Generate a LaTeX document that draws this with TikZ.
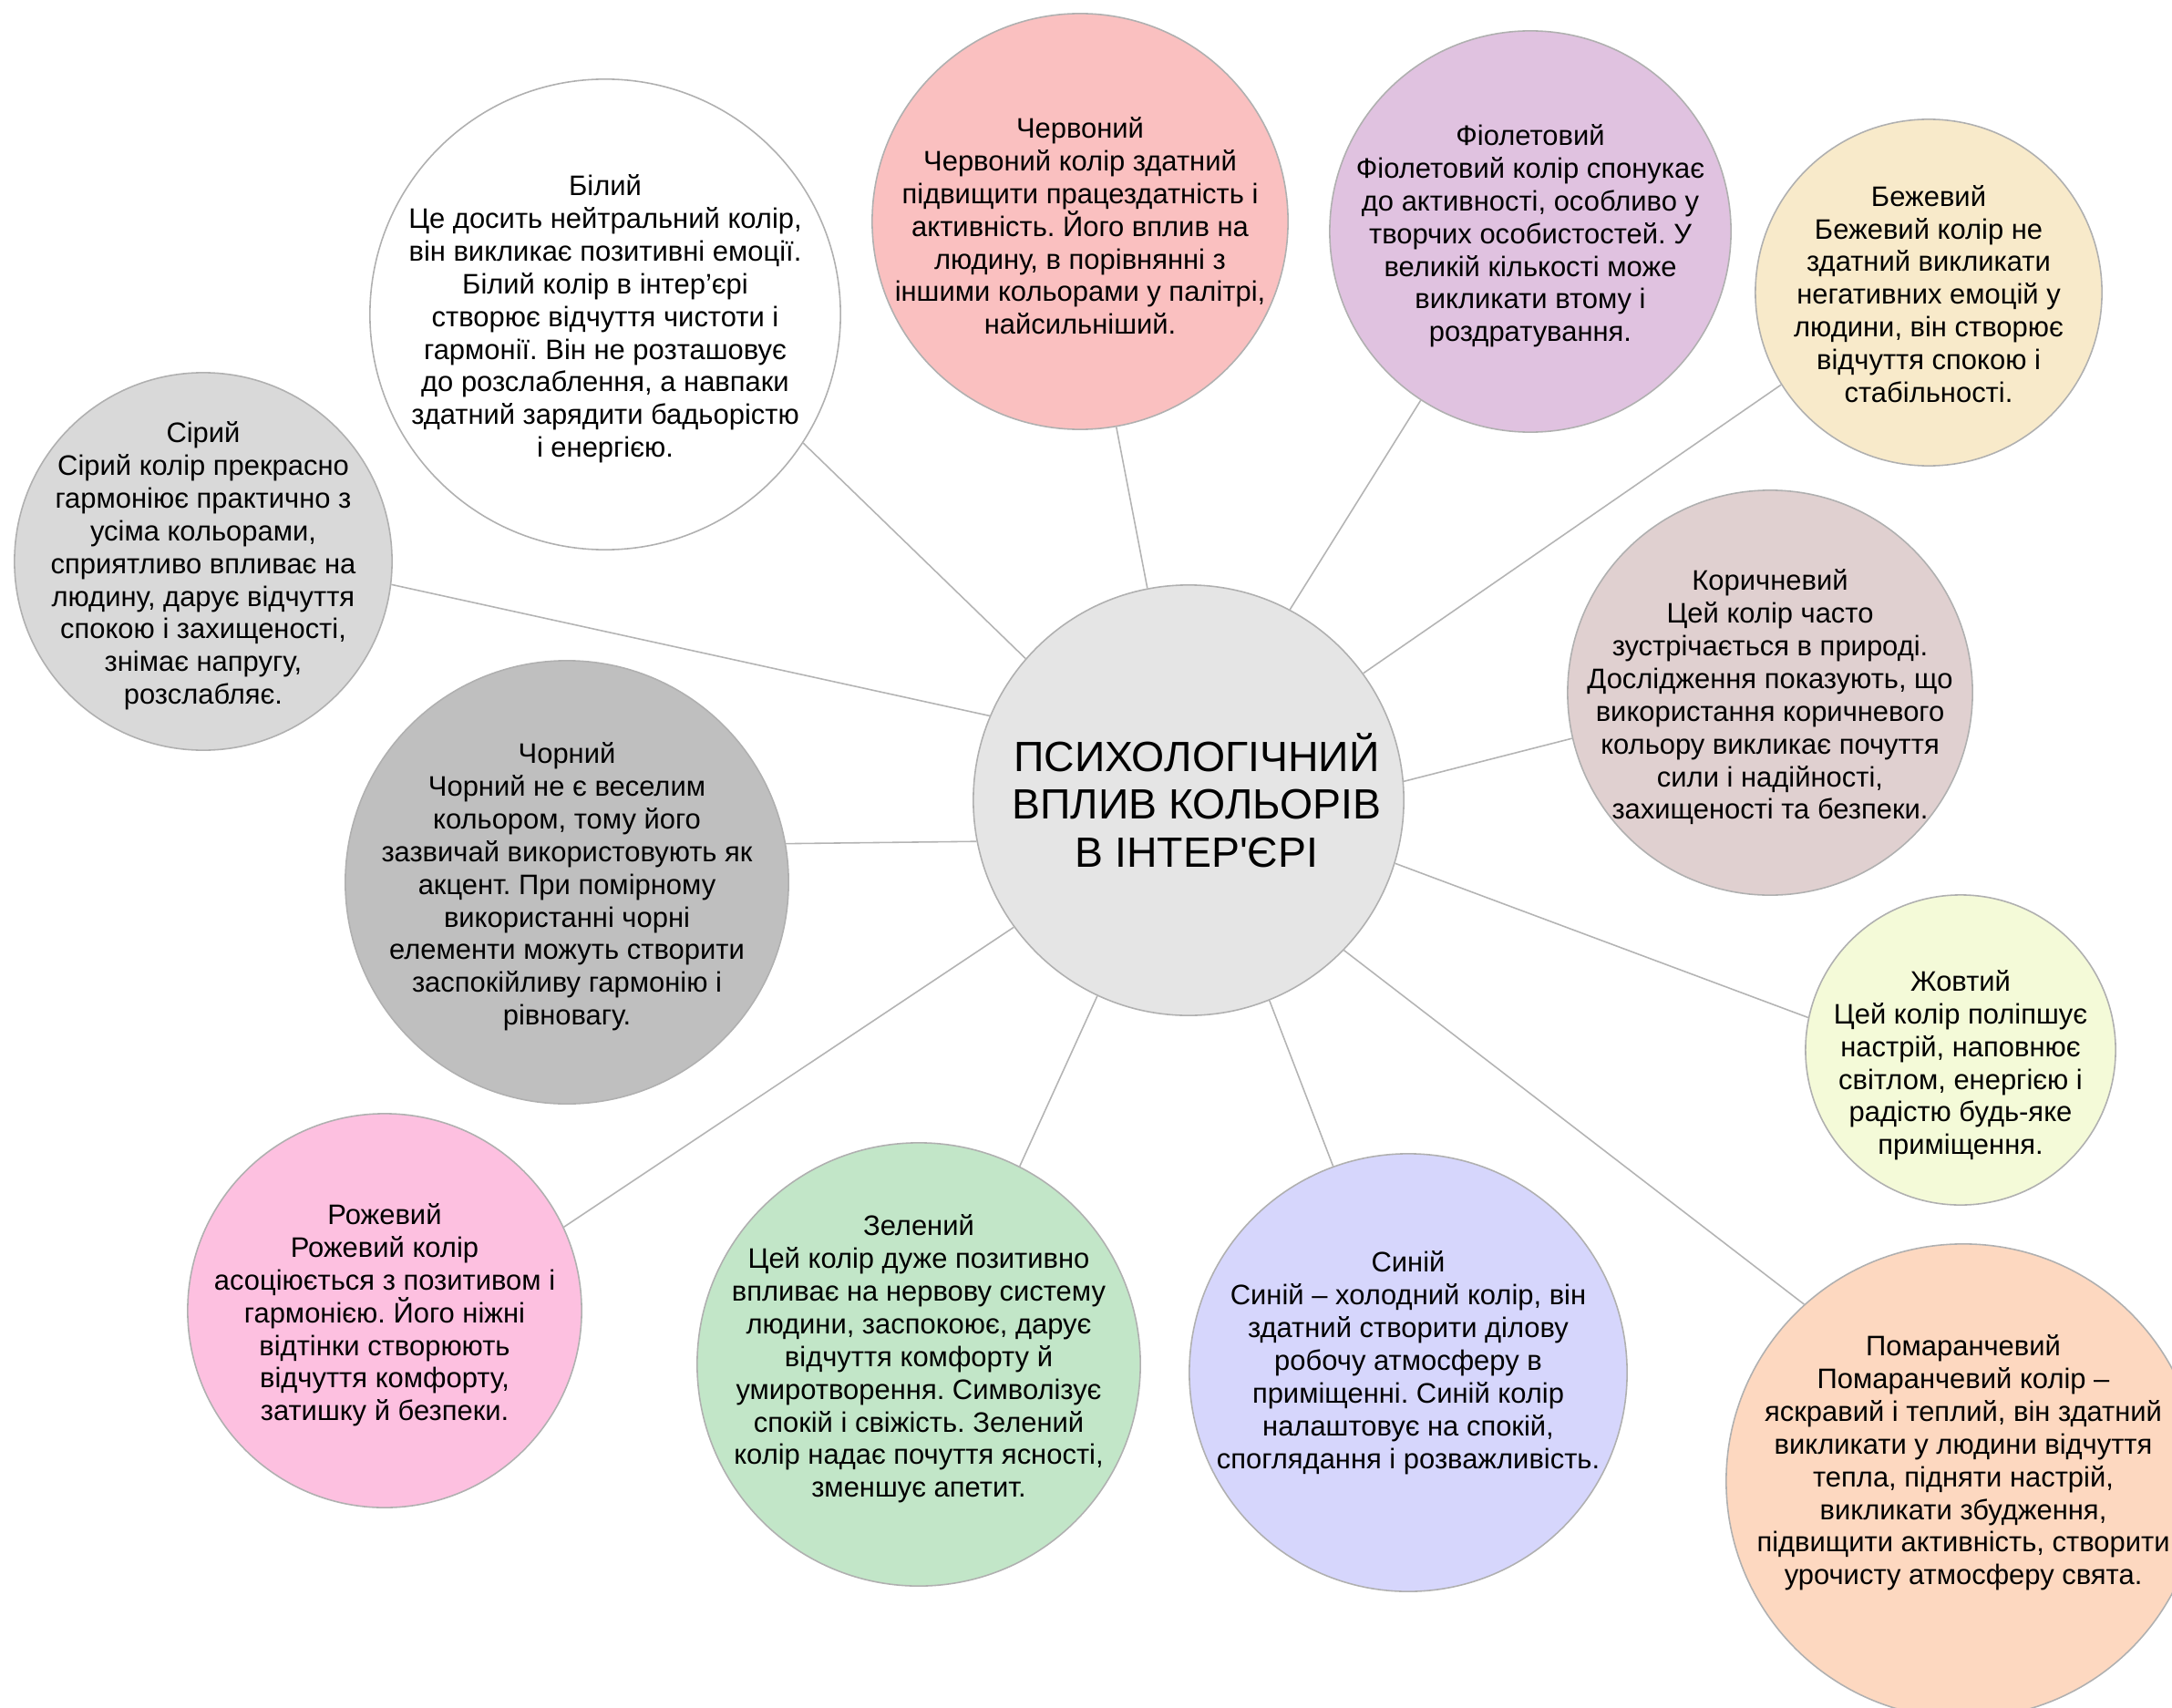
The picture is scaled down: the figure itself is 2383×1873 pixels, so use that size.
\documentclass[tikz,border=0pt]{standalone}
\usepackage{fontspec}
\setmainfont{Liberation Sans}
\usepackage{tikz}
\frenchspacing

\definecolor{edge}{HTML}{B0B0B0}
\definecolor{linkgray}{HTML}{B4B4B4}
\definecolor{hubfill}{HTML}{E5E5E5}
\definecolor{redfill}{HTML}{FAC0C0}
\definecolor{violetfill}{HTML}{E0C2E0}
\definecolor{beigefill}{HTML}{F8EACA}
\definecolor{greyfill}{HTML}{D9D9D9}
\definecolor{brownfill}{HTML}{E0D0D0}
\definecolor{blackfill}{HTML}{BFBFBF}
\definecolor{yellowfill}{HTML}{F4FAD8}
\definecolor{pinkfill}{HTML}{FDC0E0}
\definecolor{greenfill}{HTML}{C2E6C8}
\definecolor{bluefill}{HTML}{D6D6FC}
\definecolor{orangefill}{HTML}{FDD8C0}

\begin{document}
\begin{tikzpicture}[x=0.01cm,y=-0.01cm]
	\useasboundingbox (0,0) rectangle (2383,1873);
	\clip (0,0) rectangle (2383,1873);
	\tikzstyle{link}=[draw=linkgray,line width=0.45pt]
	\tikzstyle{txt}=[align=center,inner sep=0pt,yshift=-1.4pt,font=\fontsize{8.8}{10.2}\selectfont]
			\begin{scope}[shape=circle,inner sep=0pt]
			\tikzstyle{every node}=[draw=edge,line width=0.45pt]
			\node[fill=hubfill,minimum size=4.72cm] (hub) at (1304,878) {};
			\node[fill=white,minimum size=5.16cm] (white) at (664,345) {};
			\node[fill=redfill,minimum size=4.56cm] (red) at (1185,243) {};
			\node[fill=violetfill,minimum size=4.40cm] (violet) at (1679,254) {};
			\node[fill=beigefill,minimum size=3.80cm] (beige) at (2116,321) {};
			\node[fill=greyfill,minimum size=4.14cm] (grey) at (223,616) {};
			\node[fill=brownfill,minimum size=4.44cm] (brown) at (1942,760) {};
			\node[fill=blackfill,minimum size=4.86cm] (black) at (622,968) {};
			\node[fill=yellowfill,minimum size=3.40cm] (yellow) at (2151,1152) {};
			\node[fill=pinkfill,minimum size=4.32cm] (pink) at (422,1438) {};
			\node[fill=greenfill,minimum size=4.86cm] (green) at (1008,1497) {};
			\node[fill=bluefill,minimum size=4.80cm] (blue) at (1545,1506) {};
			\node[fill=orangefill,minimum size=5.20cm] (orange) at (2154,1625) {};
			\end{scope}

			\foreach \b/\ha/\ba in {white/139.4/327.3, red/101.1/280.2, violet/62.9/237.6,
				beige/36.8/212.5, grey/157.8/353.8, brown/5.1/193.8, black/191.2/10.8,
				yellow/343.5/168.0, pink/216.7/25.5, green/245.1/63.6, blue/292.2/110.9,
				orange/316.5/132.9} {
				\draw [link] (hub.\ha) -- (\b.\ba);
			}

			\node[txt,xshift=2.5pt,yshift=1.4pt,font=\fontsize{13.2}{15}\selectfont] (hub_t) at (hub) {ПСИХОЛОГІЧНИЙ\\ВПЛИВ КОЛЬОРІВ\\В ІНТЕР\textquotesingle ЄРІ};
			\node[txt] (white_t) at (white) {Білий\\Це досить нейтральний колір,\\він викликає позитивні емоції.\\Білий колір в інтер’єрі\\створює відчуття чистоти і\\гармонії. Він не розташовує\\до розслаблення, а навпаки\\здатний зарядити бадьорістю\\і енергією.};
			\node[txt] (red_t) at (red) {Червоний\\Червоний колір здатний\\підвищити працездатність і\\активність. Його вплив на\\людину, в порівнянні з\\іншими кольорами у палітрі,\\найсильніший.};
			\node[txt] (violet_t) at (violet) {Фіолетовий\\Фіолетовий колір спонукає\\до активності, особливо у\\творчих особистостей. У\\великій кількості може\\викликати втому і\\роздратування.};
			\node[txt,yshift=1pt] (beige_t) at (beige) {Бежевий\\Бежевий колір не\\здатний викликати\\негативних емоцій у\\людини, він створює\\відчуття спокою і\\стабільності.};
			\node[txt] (grey_t) at (grey) {Сірий\\Сірий колір прекрасно\\гармоніює практично з\\усіма кольорами,\\сприятливо впливає на\\людину, дарує відчуття\\спокою і захищеності,\\знімає напругу,\\розслабляє.};
			\node[txt] (brown_t) at (brown) {Коричневий\\Цей колір часто\\зустрічається в природі.\\Дослідження показують, що\\використання коричневого\\кольору викликає почуття\\сили і надійності,\\захищеності та безпеки.};
			\node[txt] (black_t) at (black) {Чорний\\Чорний не є веселим\\кольором, тому його\\зазвичай використовують як\\акцент. При помірному\\використанні чорні\\елементи можуть створити\\заспокійливу гармонію і\\рівновагу.};
			\node[txt,yshift=-3.4pt] (yellow_t) at (yellow) {Жовтий\\Цей колір поліпшує\\настрій, наповнює\\світлом, енергією і\\радістю будь-яке\\приміщення.};
			\node[txt] (pink_t) at (pink) {Рожевий\\Рожевий колір\\асоціюється з позитивом і\\гармонією. Його ніжні\\відтінки створюють\\відчуття комфорту,\\затишку й безпеки.};
			\node[txt,yshift=3.1pt] (green_t) at (green) {Зелений\\Цей колір дуже позитивно\\впливає на нервову систему\\людини, заспокоює, дарує\\відчуття комфорту й\\умиротворення. Символізує\\спокій і свіжість. Зелений\\колір надає почуття ясності,\\зменшує апетит.};
			\node[txt,yshift=4.5pt] (blue_t) at (blue) {Синій\\Синій – холодний колір, він\\здатний створити ділову\\робочу атмосферу в\\приміщенні. Синій колір\\налаштовує на спокій,\\споглядання і розважливість.};
			\node[txt,yshift=7.1pt] (orange_t) at (orange) {Помаранчевий\\Помаранчевий колір –\\яскравий і теплий, він здатний\\викликати у людини відчуття\\тепла, підняти настрій,\\викликати збудження,\\підвищити активність, створити\\урочисту атмосферу свята.};
		\end{tikzpicture}
\end{document}
